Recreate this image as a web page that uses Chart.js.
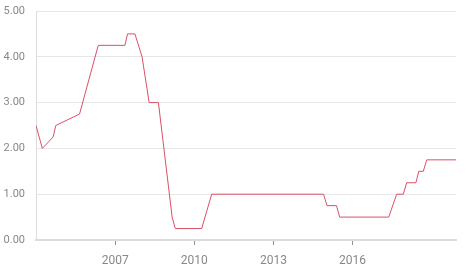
<!DOCTYPE html>
<html>
<head>
<meta charset="utf-8">
<script src="https://cdn.jsdelivr.net/npm/chart.js@4/dist/chart.umd.min.js"></script>
<style>
    html, body { margin: 0; padding: 0; background: #fff; }
    #wrap { width: 472px; height: 274px; }
</style>
</head>
<body>
<div id="wrap"><canvas id="chart"></canvas></div>
<script>
// rate change points (decimal years)
var years = [2004.0, 2004.24, 2004.65, 2004.75, 2005.65, 2006.36, 2007.37, 2007.47, 2007.75,
             2008.02, 2008.29, 2008.64, 2009.16, 2009.28, 2010.28, 2010.66, 2014.90, 2015.03,
             2015.39, 2015.51, 2017.37, 2017.67, 2017.92, 2018.05, 2018.40, 2018.51, 2018.68,
             2018.81, 2019.92];
var rates = [2.5, 2.0, 2.25, 2.5, 2.75, 4.25, 4.25, 4.5, 4.5,
             4.0, 3.0, 3.0, 0.5, 0.25, 0.25, 1.0, 1.0, 0.75,
             0.75, 0.5, 0.5, 1.0, 1.0, 1.25, 1.25, 1.5, 1.5,
             1.75, 1.75];
var yearTicks = [2007, 2010, 2013, 2016];

var points = years.map(function (y, i) {
    return { x: y, y: rates[i] };
});

var ctx = document.getElementById('chart');
var myChart = new Chart(ctx, {
    type: 'line',
    data: {
        datasets: [{
            label: 'Rate',
            data: points,
            borderColor: '#db5068',
            borderWidth: 1,
            pointRadius: 0,
            tension: 0,
            fill: false
        }]
    },
    options: {
        responsive: true,
        maintainAspectRatio: false,
        animation: false,
        layout: {
            padding: { top: 0, right: 16, left: 0, bottom: 0 }
        },
        plugins: {
            legend: { display: false },
            tooltip: { enabled: false }
        },
        scales: {
            x: {
                type: 'linear',
                min: years[0],
                max: years[years.length - 1],
                afterBuildTicks: function (scale) {
                    scale.ticks = yearTicks.map(function (v) { return { value: v }; });
                },
                afterFit: function (scale) {
                    scale.height = 34;
                },
                ticks: {
                    color: '#888',
                    font: { family: 'Roboto', size: 12 },
                    padding: 9,
                    maxRotation: 0,
                    callback: function (value) { return String(value); }
                },
                grid: {
                    drawOnChartArea: false,
                    drawTicks: true,
                    tickLength: 5,
                    tickColor: '#8596a5'
                },
                border: { color: '#dcdcdc', width: 2 }
            },
            y: {
                min: 0,
                max: 5,
                afterFit: function (scale) {
                    scale.width = 36;
                    scale.paddingTop = 11;
                    scale.paddingBottom = 0;
                },
                ticks: {
                    stepSize: 1,
                    color: '#888',
                    font: { family: 'Roboto', size: 11 },
                    padding: 11,
                    callback: function (value) { return value.toFixed(2); }
                },
                grid: {
                    color: '#e6e6e6',
                    drawTicks: false
                },
                border: { color: '#dcdcdc', width: 1 }
            }
        }
    }
});
</script>
</body>
</html>
